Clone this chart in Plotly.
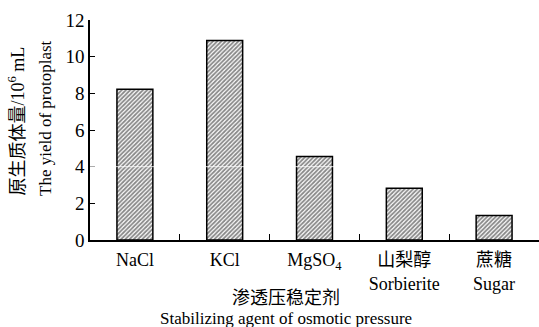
import plotly.graph_objects as go

categories = ["NaCl", "KCl", "MgSO<sub>4</sub>", "山梨醇<br>Sorbierite", "蔗糖<br>Sugar"]
yields = [8.22, 10.88, 4.55, 2.82, 1.33]
y_ticks = [0, 2, 4, 6, 8, 10, 12]
y_title_cn = "原生质体量/10<sup>6</sup> mL"
y_title_en = "The yield of protoplast"
x_title_cn = "渗透压稳定剂"
x_title_en = "Stabilizing agent of osmotic pressure"

FONT = "Liberation Serif, Times New Roman, Noto Sans CJK SC, serif"
W, H = 539, 327
L, R, T, B = 90, 0, 20, 87
pw, ph = W - L - R, H - T - B

def px_x(x):
    return (x - L) / pw

def px_y(y):
    return (H - B - y) / ph

fig = go.Figure()
fig.add_trace(go.Bar(
    x=categories, y=yields, width=0.4,
    marker=dict(
        color="white",
        line=dict(color="black", width=1.5),
        pattern=dict(shape="/", fgcolor="#111111", bgcolor="#ffffff", size=3, solidity=0.6),
    ),
))

fig.update_layout(
    width=W, height=H,
    margin=dict(l=L, r=R, t=T, b=B),
    plot_bgcolor="white", paper_bgcolor="white",
    showlegend=False,
    font=dict(family=FONT, size=18, color="black"),
)
fig.update_xaxes(
    type="category", categoryorder="array", categoryarray=categories,
    range=[-0.5, 4.5],
    showline=True, linecolor="black", linewidth=1.5,
    ticks="inside", tickson="boundaries", ticklen=6, tickwidth=1.2, tickcolor="black",
    showgrid=False, zeroline=False,
    tickfont=dict(family=FONT, size=18),
    ticklabelstandoff=3,
)
fig.update_yaxes(
    range=[0, 12], tickvals=y_ticks,
    showline=True, linecolor="black", linewidth=1.5,
    ticks="inside", ticklen=5, tickwidth=1.2, tickcolor="black",
    showgrid=False, zeroline=False,
    tickfont=dict(family=FONT, size=19),
)

# faint white line at y=4 visible over bars (as in reference)
fig.add_shape(type="line", xref="paper", yref="y", x0=0, x1=1, y0=4, y1=4,
              line=dict(color="white", width=1), layer="above", opacity=0.8)

fig.add_annotation(text=y_title_cn, xref="paper", yref="paper",
                   x=px_x(17), y=px_y(198), xanchor="center", yanchor="bottom",
                   textangle=-90, showarrow=False, font=dict(family=FONT, size=18))
fig.add_annotation(text=y_title_en, xref="paper", yref="paper",
                   x=px_x(45), y=px_y(198), xanchor="center", yanchor="bottom",
                   textangle=-90, showarrow=False, font=dict(family=FONT, size=17))
fig.add_annotation(text=x_title_cn, xref="paper", yref="paper",
                   x=px_x(286), y=px_y(298), xanchor="center", yanchor="middle",
                   showarrow=False, font=dict(family=FONT, size=18))
fig.add_annotation(text=x_title_en, xref="paper", yref="paper",
                   x=px_x(286), y=px_y(318), xanchor="center", yanchor="middle",
                   showarrow=False, font=dict(family=FONT, size=17))

fig.write_html("out.html", config={"displayModeBar": False},
               post_script="document.body.style.margin='0';")
